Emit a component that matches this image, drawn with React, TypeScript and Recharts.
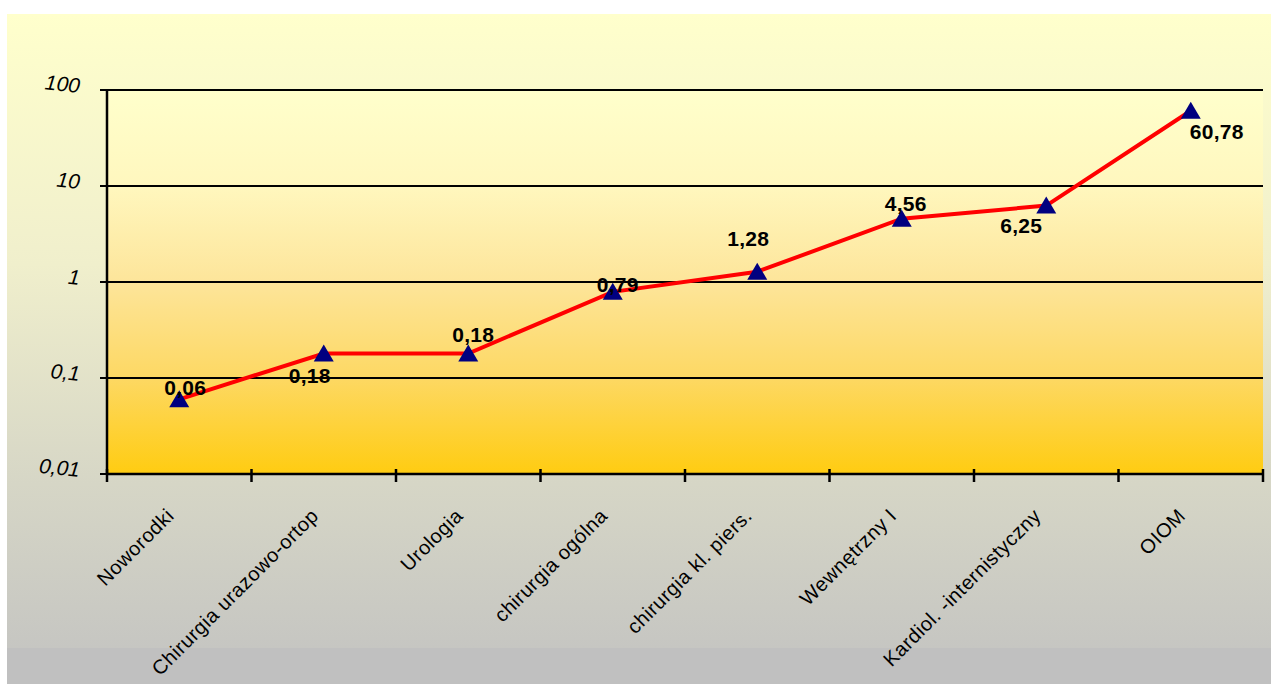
import { LineChart, Line, XAxis, YAxis, CartesianGrid, LabelList } from 'recharts';

const categories = [
  'Noworodki',
  'Chirurgia urazowo-ortop',
  'Urologia',
  'chirurgia ogólna',
  'chirurgia kl. piers.',
  'Wewnętrzny I',
  'Kardiol. -internistyczny',
  'OIOM',
];
const values = [0.06, 0.18, 0.18, 0.79, 1.28, 4.56, 6.25, 60.78];
const yTicks = [0.01, 0.1, 1, 10, 100];

const data = categories.map((name, i) => ({ name, value: values[i] }));

// chart geometry
const W = 1271;
const H = 684;
const plotLeft = 107;
const plotRight = 1263;
const plotTop = 90;
const plotBottom = 474;
const yAxisW = 60;
const xAxisH = 60;
const band = (plotRight - plotLeft) / categories.length;

// where each data label sits relative to its marker
const labelOffsets = [
  [6, -12],
  [-14, 22],
  [5, -19],
  [5, -7],
  [-9, -33],
  [4, -15],
  [-25, 20],
  [26, 21],
];

const fmt = (v: number) => String(v).replace('.', ',');

const YTick = (props: any) => {
  const { x, y, payload } = props;
  return (
    <text
      x={x}
      y={y - 6}
      textAnchor="end"
      dominantBaseline="central"
      fontFamily="Liberation Sans, Arial, sans-serif"
      fontStyle="italic"
      fontSize={21}
      fill="#000"
      transform={`rotate(6, ${x - 15}, ${y - 6})`}
    >
      {fmt(payload.value)}
    </text>
  );
};

const XTick = (props: any) => {
  const { x, y, payload, index } = props;
  const left = x - band / 2;
  const last = index === categories.length - 1;
  const ax = x - 4;
  const ay = y + 43;
  return (
    <g>
      <line x1={left} x2={left} y1={y - 5} y2={y + 8} stroke="#000" strokeWidth={2.5} />
      {last && <line x1={left + band} x2={left + band} y1={y - 5} y2={y + 8} stroke="#000" strokeWidth={2.5} />}
      <text
        x={ax}
        y={ay}
        textAnchor="end"
        transform={`rotate(-45, ${ax}, ${ay})`}
        fontFamily="Liberation Sans, Arial, sans-serif"
        fontSize={20}
        letterSpacing={0.5}
        fill="#000"
      >
        {payload.value}
      </text>
    </g>
  );
};

const Triangle = (props: any) => {
  const { cx, cy, index } = props;
  if (cx == null || cy == null) return <g key={index} />;
  return (
    <path
      key={index}
      d={`M${cx},${cy - 9} L${cx + 10},${cy + 8} L${cx - 10},${cy + 8} Z`}
      fill="#000080"
    />
  );
};

const ValueLabel = (props: any) => {
  const { x, y, value, index } = props;
  const [dx, dy] = labelOffsets[index] || [0, -15];
  return (
    <text
      x={x + dx}
      y={y + dy}
      textAnchor="middle"
      dominantBaseline="central"
      fontFamily="Liberation Sans, Arial, sans-serif"
      fontWeight="bold"
      fontSize={21}
      letterSpacing={0.3}
      fill="#000"
    >
      {Number(value).toFixed(2).replace('.', ',')}
    </text>
  );
};

export default function App() {
  return (
    <div style={{ position: 'absolute', left: 0, top: 0, width: W, height: H }}>
      <div
        style={{
          position: 'absolute',
          left: 7,
          top: 14,
          width: W - 7,
          height: H - 14,
          background:
            'linear-gradient(to bottom, #FFFFCC 0px, #F0EFCC 250px, #D6D6C6 470px, #C6C6C2 634px, #C0C0C0 634px, #C0C0C0 100%)',
        }}
      />
      <div style={{ position: 'absolute', left: 0, top: 0 }}>
        <LineChart
          width={W}
          height={H}
          data={data}
          margin={{
            top: plotTop,
            right: W - plotRight,
            left: plotLeft - yAxisW,
            bottom: H - plotBottom - xAxisH,
          }}
        >
          <defs>
            <linearGradient id="plotBg" x1="0" y1="0" x2="0" y2="1">
              <stop offset="0%" stopColor="#FFFFCC" />
              <stop offset="25%" stopColor="#FFF7BE" />
              <stop offset="50%" stopColor="#FDE59A" />
              <stop offset="75%" stopColor="#FDD863" />
              <stop offset="100%" stopColor="#FFCC11" />
            </linearGradient>
          </defs>
          <CartesianGrid
            vertical={false}
            stroke="#000"
            strokeWidth={2}
            strokeOpacity={1}
            fill="url(#plotBg)"
            fillOpacity={1}
          />
          <XAxis
            dataKey="name"
            height={xAxisH}
            interval={0}
            padding={{ left: band / 2, right: band / 2 }}
            tickLine={false}
            tickSize={0}
            tickMargin={0}
            axisLine={{ stroke: '#000', strokeWidth: 2.5 }}
            tick={<XTick />}
          />
          <YAxis
            scale="log"
            domain={[0.01, 100]}
            ticks={yTicks}
            allowDataOverflow
            width={yAxisW}
            tickSize={7}
            tickMargin={20}
            tickLine={{ stroke: '#000', strokeWidth: 2 }}
            axisLine={{ stroke: '#000', strokeWidth: 2.5 }}
            tick={<YTick />}
          />
          <Line
            type="linear"
            dataKey="value"
            stroke="#FF0000"
            strokeWidth={4}
            dot={<Triangle />}
            activeDot={false}
            isAnimationActive={false}
          >
            <LabelList dataKey="value" content={<ValueLabel />} />
          </Line>
        </LineChart>
      </div>
    </div>
  );
}
